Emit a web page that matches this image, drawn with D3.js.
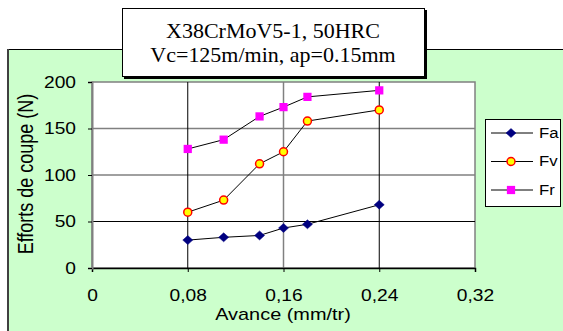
<!DOCTYPE html>
<html>
<head>
<meta charset="utf-8">
<script src="https://cdn.jsdelivr.net/npm/d3@7"></script>
<style>
  body { margin: 0; background: #fff; }
  svg { display: block; }
</style>
</head>
<body>
<div id="chart"></div>
<script>
const avance = [0.08, 0.11, 0.14, 0.16, 0.18, 0.24];
const fa = [30, 33, 35, 43, 47, 68];
const fv = [60, 73, 112, 125, 158, 170];
const fr = [128, 138, 163, 173, 184, 191];
const xTicks = [0, 0.08, 0.16, 0.24, 0.32];
const yTicks = [0, 50, 100, 150, 200];
const titleLines = ["X38CrMoV5-1, 50HRC", "Vc=125m/min, ap=0.15mm"];

const W = 563, H = 331;
const SANS = "Arial, 'Liberation Sans', sans-serif";
const SX = 1.2; // text in the picture is a bit wide

const svg = d3.select("#chart").append("svg").attr("width", W).attr("height", H);

// widen text around its own x position
function stretch(sel, sx) {
  sel.each(function() {
    const t = d3.select(this);
    const tx = +t.attr("x") || 0;
    t.attr("transform", `translate(${tx},0) scale(${sx},1) translate(${-tx},0)`);
  });
}

// green chart area
svg.append("rect").attr("x", 8.5).attr("y", 49.5).attr("width", W).attr("height", H)
  .attr("fill", "#ccffcc").attr("stroke", "#000").attr("stroke-width", 1);
svg.append("line").attr("x1", 8).attr("x2", 8).attr("y1", 49).attr("y2", H)
  .attr("stroke", "#404040").attr("stroke-width", 2);

const x = d3.scaleLinear().domain([0, 0.32]).range([92, 475]);
const y = d3.scaleLinear().domain([0, 200]).range([268, 82]);

// plot area
svg.append("rect").attr("x", x(0)).attr("y", y(200)).attr("width", x(0.32) - x(0)).attr("height", y(0) - y(200))
  .attr("fill", "#fff").attr("stroke", "#808080").attr("stroke-width", 1.5);

// gridlines
const hColor = {50: "#000", 100: "#808080", 150: "#808080"};
svg.append("g").selectAll("line").data([50, 100, 150]).enter().append("line")
  .attr("x1", x(0)).attr("x2", x(0.32)).attr("y1", d => y(d)).attr("y2", d => y(d))
  .attr("stroke", d => hColor[d]).attr("stroke-width", d => d === 50 ? 1 : 1.5);
const vColor = {0.08: "#000", 0.16: "#808080", 0.24: "#000"};
svg.append("g").selectAll("line").data([0.08, 0.16, 0.24]).enter().append("line")
  .attr("y1", y(0)).attr("y2", y(200)).attr("x1", d => x(d)).attr("x2", d => x(d))
  .attr("stroke", d => vColor[d]).attr("stroke-width", d => d === 0.16 ? 1.5 : 1);

// axes
const xAxis = d3.axisBottom(x).tickValues(xTicks).tickSize(4).tickPadding(18)
  .tickFormat(d => d === 0 ? "0" : d3.format(".2f")(d).replace(".", ","));
const gx = svg.append("g").attr("transform", `translate(0,${y(0)})`).call(xAxis);
gx.select(".domain").attr("stroke", "#000").attr("stroke-width", 1.5);
gx.selectAll(".tick line").attr("stroke", "#000");
gx.selectAll("text").attr("font-family", SANS).attr("font-size", 16).attr("fill", "#000").call(stretch, SX);

const yAxis = d3.axisLeft(y).tickValues(yTicks).tickSize(4).tickPadding(12);
const gy = svg.append("g").attr("transform", `translate(${x(0)},0)`).call(yAxis);
gy.select(".domain").attr("stroke", "#808080").attr("stroke-width", 2);
gy.selectAll(".tick line").attr("stroke", "#000");
gy.selectAll("text").attr("font-family", SANS).attr("font-size", 16).attr("fill", "#000").call(stretch, SX);

// axis titles
svg.append("text").attr("x", 283).attr("y", 320).attr("text-anchor", "middle")
  .attr("font-family", SANS).attr("font-size", 17).text("Avance (mm/tr)").call(stretch, 1.17);
svg.append("text").attr("transform", `translate(33,174) scale(${SX},1) rotate(-90)`).attr("text-anchor", "middle")
  .attr("font-family", SANS).attr("font-size", 18).text("Efforts de coupe (N)");

// markers
const diamond = {draw(ctx, size) {
  const w = 5, h = 4.5;
  ctx.moveTo(0, -h); ctx.lineTo(w, 0); ctx.lineTo(0, h); ctx.lineTo(-w, 0); ctx.closePath();
}};

// series
const series = [
  {name: "Fa", values: fa, shape: diamond, size: 1, fill: "#000080", stroke: "#000080"},
  {name: "Fv", values: fv, shape: d3.symbolCircle, size: 50, fill: "#ffff00", stroke: "#ff0000"},
  {name: "Fr", values: fr, shape: d3.symbolSquare, size: 68, fill: "#ff00ff", stroke: "none"}
];
const line = d3.line().x(d => x(d[0])).y(d => y(d[1]));
series.forEach(s => {
  const pts = avance.map((a, i) => [a, s.values[i]]);
  svg.append("path").datum(pts).attr("d", line).attr("fill", "none").attr("stroke", "#000").attr("stroke-width", 1);
  svg.append("g").selectAll("path").data(pts).enter().append("path")
    .attr("transform", d => `translate(${x(d[0])},${y(d[1])})`)
    .attr("d", d3.symbol().type(s.shape).size(s.size))
    .attr("fill", s.fill).attr("stroke", s.stroke).attr("stroke-width", s.name === "Fa" ? 0.5 : 1.5);
});

// legend
const leg = svg.append("g");
leg.append("rect").attr("x", 485.5).attr("y", 119.5).attr("width", 75).attr("height", 87)
  .attr("fill", "#fff").attr("stroke", "#000").attr("stroke-width", 1);
series.forEach((s, i) => {
  const ly = 133 + i * 28.5;
  leg.append("line").attr("x1", 491).attr("x2", 533).attr("y1", ly).attr("y2", ly).attr("stroke", "#000");
  leg.append("path").attr("transform", `translate(511,${ly})`)
    .attr("d", d3.symbol().type(s.shape).size(s.size))
    .attr("fill", s.fill).attr("stroke", s.stroke).attr("stroke-width", s.name === "Fa" ? 0.5 : 1.5);
  leg.append("text").attr("x", 539).attr("y", ly + 5)
    .attr("font-family", SANS).attr("font-size", 15).text(s.name).call(stretch, 1.12);
});

// title box with shadow
svg.append("rect").attr("x", 124).attr("y", 10).attr("width", 303).attr("height", 69).attr("fill", "#000");
svg.append("rect").attr("x", 122.5).attr("y", 8.5).attr("width", 302).attr("height", 68)
  .attr("fill", "#fff").attr("stroke", "#000").attr("stroke-width", 1);
svg.append("g").selectAll("text").data(titleLines).enter().append("text")
  .attr("x", 273).attr("y", (d, i) => 38.5 + i * 24).attr("text-anchor", "middle")
  .attr("font-family", "'Liberation Serif', 'Times New Roman', serif").attr("font-size", 20)
  .text(d => d).call(stretch, 1.1);
</script>
</body>
</html>
